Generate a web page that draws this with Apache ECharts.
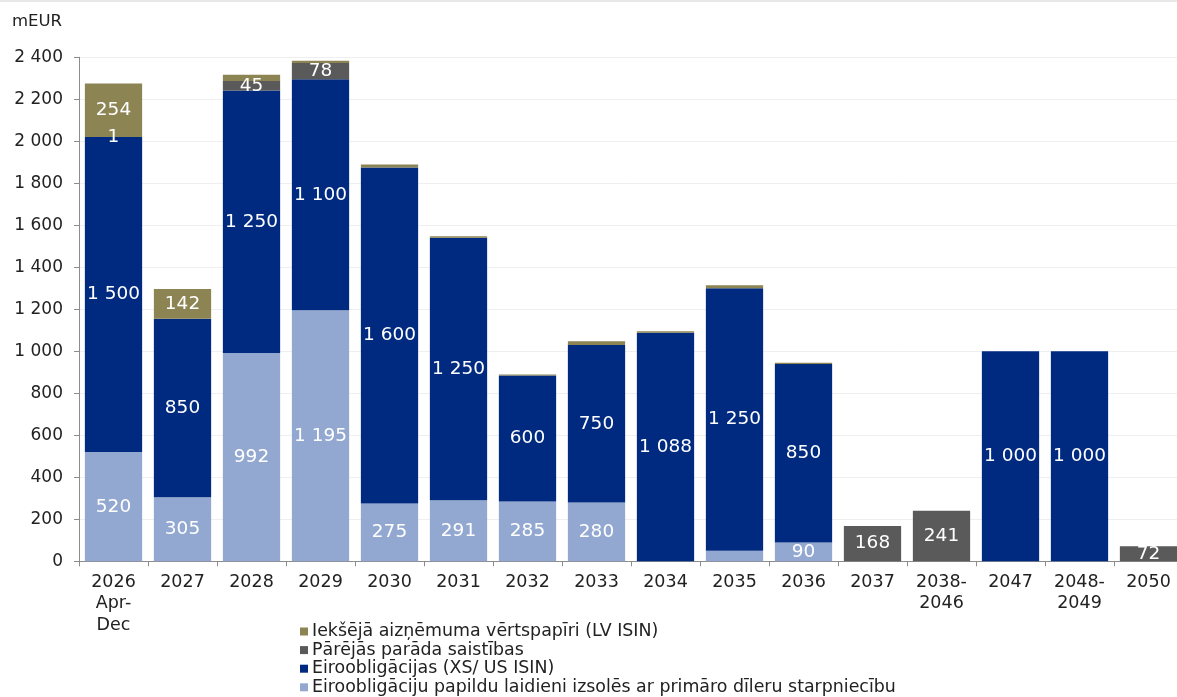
<!DOCTYPE html>
<html>
<head>
<meta charset="utf-8">
<script src="https://cdn.jsdelivr.net/npm/echarts@6/dist/echarts.min.js"></script>
<style>
html,body{margin:0;padding:0;background:#fff;}
#chart{width:1177px;height:697px;}
</style>
</head>
<body>
<div id="chart"></div>
<script>
const categories = ['2026\nApr-\nDec','2027','2028','2029','2030','2031','2032','2033','2034','2035','2036','2037','2038-\n2046','2047','2048-\n2049','2050'];
const seriesNames = [
  'Eiroobligāciju papildu laidieni izsolēs ar primāro dīleru starpniecību',
  'Eiroobligācijas (XS/ US ISIN)',
  'Pārējās parāda saistības',
  'Iekšējā aizņēmuma vērtspapīri (LV ISIN)'
];
const auctionTaps = [520,305,992,1195,275,291,285,280,0,50,90,0,0,0,0,0];
const eurobonds   = [1500,850,1250,1100,1600,1250,600,750,1088,1250,850,0,0,1000,1000,0];
const otherDebt   = [1,0,45,78,0,0,0,0,0,0,0,168,241,0,0,72];
const domestic    = [254,142,30,10,15,7,5,18,7,15,5,0,0,0,0,0];
const labelMin    = [60, 1, 1, 100];
const colors      = ['#93a8d0','#002a80','#5a5a5a','#8c8452'];
const yTicks      = [0,200,400,600,800,1000,1200,1400,1600,1800,2000,2200,2400];

const fmt = v => String(v).replace(/\B(?=(\d{3})+(?!\d))/g, ' ');
const FONT = 'DejaVu Sans';
const dataSets = [auctionTaps, eurobonds, otherDebt, domestic];

const series = dataSets.map((d, i) => ({
  name: seriesNames[i],
  type: 'bar',
  stack: 'total',
  barCategoryGap: '17%',
  itemStyle: { color: colors[i] },
  emphasis: { disabled: true },
  label: {
    show: true,
    position: 'inside',
    color: '#ffffff',
    fontFamily: FONT,
    fontSize: 18.5,
    formatter: p => (p.value >= labelMin[i] && p.value > 0) ? fmt(p.value) : ''
  },
  data: d
}));

const chart = echarts.init(document.getElementById('chart'));
chart.setOption({
  animation: false,
  backgroundColor: '#ffffff',
  textStyle: { fontFamily: FONT },
  graphic: [
    { type: 'line', shape: { x1: 0, y1: 1, x2: 1177, y2: 1 }, style: { stroke: '#d0d0d0', lineWidth: 1 } },
    { type: 'text', left: 12, top: 13, style: { text: 'mEUR', font: '16.5px "DejaVu Sans"', fill: '#222' } }
  ],
  grid: { left: 79, right: -6, top: 57.3, bottom: 135.7, containLabel: false, outerBoundsMode: 'none' },
  legend: {
    orient: 'vertical',
    left: 300,
    top: 623,
    padding: 0,
    itemWidth: 8,
    itemHeight: 8,
    itemGap: 1.6,
    icon: 'rect',
    selectedMode: false,
    data: [seriesNames[3], seriesNames[2], seriesNames[1], seriesNames[0]],
    textStyle: { fontFamily: FONT, fontSize: 17.4, color: '#222', lineHeight: 17, padding: [0,0,0,-1] }
  },
  xAxis: {
    type: 'category',
    data: categories,
    axisLine: { lineStyle: { color: '#8c8c8c', width: 1 } },
    axisTick: { show: true, length: 5, lineStyle: { color: '#8c8c8c' } },
    axisLabel: { fontFamily: FONT, fontSize: 17.5, color: '#222', lineHeight: 21.5, margin: 10, interval: 0 }
  },
  yAxis: {
    type: 'value',
    min: 0,
    max: 2400,
    interval: 200,
    axisLine: { show: true, lineStyle: { color: '#8c8c8c', width: 1 } },
    axisTick: { show: true, length: 5, lineStyle: { color: '#8c8c8c' } },
    splitLine: { lineStyle: { color: '#efefef' } },
    axisLabel: { fontFamily: FONT, fontSize: 17, color: '#222', margin: 16, formatter: v => yTicks.includes(v) ? fmt(v) : '' }
  },
  series: series
});
</script>
</body>
</html>
